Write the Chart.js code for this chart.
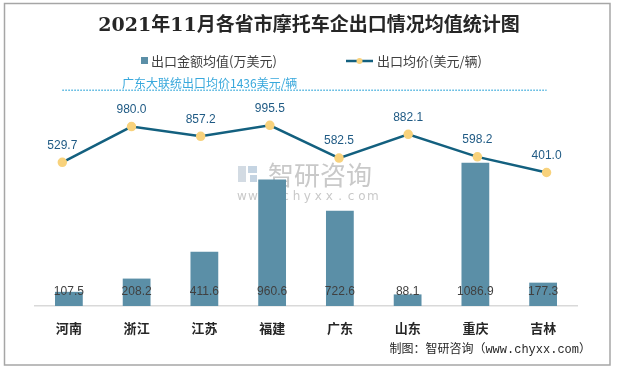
<!DOCTYPE html>
<html>
<head>
<meta charset="utf-8">
<script src="https://cdn.jsdelivr.net/npm/chart.js@4.4.1/dist/chart.umd.min.js"></script>
<style>
  html, body { margin: 0; padding: 0; background: #fff; }
  canvas { display: block; }
</style>
</head>
<body>
<canvas id="chart" width="617" height="369"></canvas>
<script>
const categories = ["河南", "浙江", "江苏", "福建", "广东", "山东", "重庆", "吉林"];
const exportValue = [107.5, 208.2, 411.6, 960.6, 722.6, 88.1, 1086.9, 177.3];
const avgPrice = [529.7, 980.0, 857.2, 995.5, 582.5, 882.1, 598.2, 401.0];
const gdPrice = 1436;

const BAR_COLOR = "#5b8fa7";
const LINE_COLOR = "#13607f";
const POINT_COLOR = "#f8d27c";
const CJK = "'Noto Sans CJK SC', sans-serif";

// everything around the plot: frame, title, legend, note, footer, watermark
var decor = {
  id: "decor",
  beforeDatasetsDraw: function(chart) {
    var ctx = chart.ctx;
    ctx.save();
    // watermark
    ctx.fillStyle = "#d3dbe3";
    ctx.fillRect(238, 166, 8, 16);
    ctx.fillStyle = "#c5d4e2";
    ctx.fillRect(248, 166, 9, 7);
    ctx.fillRect(250, 175, 7, 7);
    ctx.fillStyle = "#c9c9c9";
    ctx.font = "26px " + CJK;
    ctx.textBaseline = "middle";
    ctx.textAlign = "left";
    ctx.fillText("智研咨询", 268, 175);
    ctx.font = "12px 'DejaVu Sans', sans-serif";
    ctx.textAlign = "center";
    var w = "www.chyxx.com";
    for (var i = 0; i < w.length; i++) ctx.fillText(w[i], 242 + i * 10.9, 197);
    ctx.restore();
  },
  afterDraw: function(chart) {
    var ctx = chart.ctx;
    ctx.save();
    ctx.strokeStyle = "#a6a6a6";
    ctx.lineWidth = 1.5;
    ctx.strokeRect(4.5, 3.5, 605.5, 361.5);

    ctx.fillStyle = "#262626";
    ctx.font = "bold 19px 'DejaVu Serif', " + CJK;
    ctx.textAlign = "center";
    ctx.textBaseline = "middle";
    ctx.fillText("2021年11月各省市摩托车企出口情况均值统计图", 309, 26);

    // legend
    var ds = chart.data.datasets;
    ctx.font = "13px " + CJK;
    ctx.textAlign = "left";
    ctx.fillStyle = ds[0].backgroundColor;
    ctx.fillRect(141, 57, 7, 7);
    ctx.fillStyle = "#404040";
    ctx.fillText(ds[0].label, 151, 61);
    ctx.strokeStyle = ds[1].borderColor;
    ctx.lineWidth = 2.5;
    ctx.beginPath(); ctx.moveTo(346, 61); ctx.lineTo(373, 61); ctx.stroke();
    ctx.fillStyle = ds[1].pointBackgroundColor;
    ctx.beginPath(); ctx.arc(359.5, 61, 3, 0, Math.PI * 2); ctx.fill();
    ctx.fillStyle = "#404040";
    ctx.fillText(ds[1].label, 377, 61);

    // note over the reference line
    ctx.fillStyle = "#38a8dc";
    ctx.font = "12px " + CJK;
    ctx.fillText("广东大联统出口均价" + gdPrice + "美元/辆", 122, 83);

    // footer
    ctx.fillStyle = "#262626";
    ctx.font = "12px 'Liberation Mono', " + CJK;
    ctx.textAlign = "right";
    ctx.fillText("制图：智研咨询（www.chyxx.com）", 591, 350);

    // value labels
    var barMeta = chart.getDatasetMeta(0);
    ctx.textAlign = "center";
    ctx.font = "12px 'Liberation Sans', sans-serif";
    ctx.fillStyle = "#404040";
    barMeta.data.forEach(function(el, i) {
      ctx.fillText(exportValue[i].toFixed(1), el.x, 292);
    });
    var lineMeta = chart.getDatasetMeta(1);
    ctx.fillStyle = "#1f5a84";
    lineMeta.data.forEach(function(el, i) {
      ctx.fillText(avgPrice[i].toFixed(1), el.x, el.y - 17);
    });
    ctx.restore();
  }
};

new Chart(document.getElementById("chart"), {
  type: "bar",
  data: {
    labels: categories,
    datasets: [
      {
        type: "bar",
        label: "出口金额均值(万美元)",
        data: exportValue,
        backgroundColor: BAR_COLOR,
        xAxisID: "x",
        yAxisID: "y",
        grouped: false,
        categoryPercentage: 1,
        barPercentage: 0.41,
        order: 2
      },
      {
        type: "line",
        label: "出口均价(美元/辆)",
        data: avgPrice.map(function(v, i) { return { x: i, y: v }; }),
        borderColor: LINE_COLOR,
        borderWidth: 2.5,
        pointBackgroundColor: POINT_COLOR,
        pointBorderColor: POINT_COLOR,
        pointRadius: 3.5,
        xAxisID: "xl",
        yAxisID: "y1",
        clip: false,
        order: 1
      },
      {
        type: "line",
        label: "广东大联统出口均价",
        data: categories.map(function(c, i) { return { x: i, y: gdPrice }; }),
        borderColor: "#4db2de",
        borderWidth: 1.5,
        borderDash: [1.5, 1.5],
        pointRadius: 0,
        xAxisID: "xl",
        yAxisID: "y1",
        clip: false,
        order: 0
      }
    ]
  },
  options: {
    responsive: false,
    animation: false,
    layout: { padding: { top: 90, left: 35, right: 40, bottom: 0 } },
    scales: {
      x: {
        grid: { display: false },
        border: { color: "#d9d9d9", width: 1.5 },
        ticks: { color: "#262626", padding: 6, font: { size: 13, weight: "bold", family: CJK } },
        afterFit: function(s) { s.height = 63; }
      },
      xl: { type: "linear", axis: "x", position: "bottom", offset: false, display: false, min: -0.395, max: 7.44 },
      y: { display: false, min: 0, max: 1640 },
      y1: { display: false, min: -1280, max: 1440 }
    },
    plugins: {
      legend: { display: false },
      tooltip: { enabled: false }
    }
  },
  plugins: [decor]
});
</script>
</body>
</html>
